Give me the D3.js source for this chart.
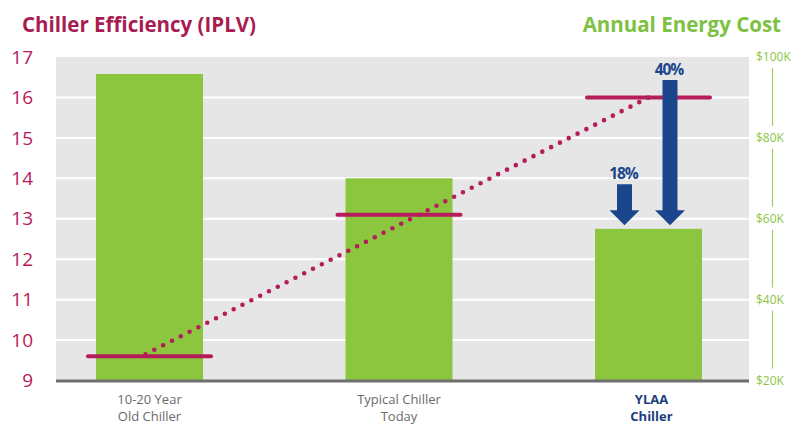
<!DOCTYPE html>
<html>
<head>
<meta charset="utf-8">
<script src="https://d3js.org/d3.v7.min.js"></script>
<style>
  body { margin: 0; background: #fff; }
  svg { display: block; font-family: "Open Sans", "Noto Sans", sans-serif; }
</style>
</head>
<body>
<div id="chart"></div>
<script>
// data
var categories = [["10-20 Year", "Old Chiller"], ["Typical Chiller", "Today"], ["YLAA", "Chiller"]]
var energyCost = [95.8, 70, 57.5]      // $K, right axis (bars)
var iplv = [9.6, 13.1, 16.0]           // left axis (red lines)
var iplvTicks = [9, 10, 11, 12, 13, 14, 15, 16, 17]
var costTicks = [20, 40, 60, 80, 100]
var savings = [{ label: "18%", from: 1 }, { label: "40%", from: 0 }]

var width = 795, height = 426
var plot = { left: 56, right: 749, top: 57, bottom: 380.5 }

var red = "#b51c5a", green = "#8cc63f", blue = "#1c468c"

var svg = d3.select("#chart").append("svg")
  .attr("width", width).attr("height", height)

var x = d3.scalePoint().domain(d3.range(categories.length)).range([149.5, 648.5])
var yL = d3.scaleLinear().domain([9, 17]).range([plot.bottom, plot.top])
var yR = d3.scaleLinear().domain([20, 100]).range([plot.bottom, plot.top])
var barW = 107

// background
svg.append("rect")
  .attr("x", plot.left).attr("y", plot.top)
  .attr("width", plot.right - plot.left).attr("height", plot.bottom - plot.top)
  .attr("fill", "#e6e6e6")

// grid lines
svg.selectAll(".grid").data(iplvTicks.slice(1, -1)).enter().append("line")
  .attr("x1", plot.left).attr("x2", plot.right)
  .attr("y1", d => yL(d)).attr("y2", d => yL(d))
  .attr("stroke", "#fff").attr("stroke-width", 2)

// bars
svg.selectAll(".bar").data(energyCost).enter().append("rect")
  .attr("x", (d, i) => x(i) - barW / 2)
  .attr("y", d => yR(d))
  .attr("width", barW)
  .attr("height", d => plot.bottom - yR(d))
  .attr("fill", green)

// x axis line
svg.append("line")
  .attr("x1", plot.left).attr("x2", plot.right)
  .attr("y1", plot.bottom + 0.5).attr("y2", plot.bottom + 0.5)
  .attr("stroke", "#6e6e6e").attr("stroke-width", 3)

// dotted trend line
svg.append("line")
  .attr("x1", x(0) - 4).attr("y1", yL(iplv[0]) - 2)
  .attr("x2", x(2)).attr("y2", yL(iplv[2]))
  .attr("stroke", red).attr("stroke-width", 4.6)
  .attr("stroke-linecap", "round").attr("stroke-dasharray", "0 9.9")

// IPLV lines
svg.selectAll(".iplv").data(iplv).enter().append("line")
  .attr("x1", (d, i) => x(i) - barW / 2 - 8).attr("x2", (d, i) => x(i) + barW / 2 + 8)
  .attr("y1", d => yL(d)).attr("y2", d => yL(d))
  .attr("stroke", red).attr("stroke-width", 4).attr("stroke-linecap", "round")

// saving arrows
var arrowX = [x(2) - 24, x(2) + 21.5]
savings.forEach(function (s, i) {
  var cx = arrowX[i]
  var top = yR(energyCost[s.from]) + 6
  var tip = yR(energyCost[2]) - 3.5
  var headTop = tip - 15
  svg.append("path")
    .attr("d", "M" + (cx - 7.5) + "," + top + "H" + (cx + 7.5) + "V" + headTop +
      "H" + (cx + 15) + "L" + cx + "," + tip + "L" + (cx - 15) + "," + headTop +
      "H" + (cx - 7.5) + "Z")
    .attr("fill", blue)
  svg.append("text")
    .attr("x", cx - 1).attr("y", top - 5)
    .attr("text-anchor", "middle")
    .attr("font-size", 15.5).attr("font-weight", 700).attr("letter-spacing", -1)
    .attr("fill", blue)
    .text(s.label)
})

// left axis labels
svg.selectAll(".lt").data(iplvTicks).enter().append("text")
  .attr("x", 33).attr("y", d => yL(d)).attr("dy", "0.35em")
  .attr("text-anchor", "end").attr("font-size", 19)
  .attr("fill", red).text(d => d)

// right axis labels and connectors
svg.selectAll(".rt").data(costTicks).enter().append("text")
  .attr("x", 756).attr("y", d => yR(d)).attr("dy", "0.35em")
  .attr("font-size", 12).attr("fill", "#8cc63f")
  .text(d => "$" + d + "K")
svg.selectAll(".rc").data(costTicks.slice(1)).enter().append("line")
  .attr("x1", 772.5).attr("x2", 772.5)
  .attr("y1", d => yR(d) + 11).attr("y2", d => yR(d - 20) - 12)
  .attr("stroke", "#9ccf5f").attr("stroke-width", 1.2)

// category labels
categories.forEach(function (c, i) {
  var last = i === categories.length - 1
  var t = svg.append("text")
    .attr("x", x(i) + (last ? 3 : 0)).attr("y", 404)
    .attr("text-anchor", "middle").attr("font-size", 13)
    .attr("font-weight", last ? 700 : 400)
    .attr("fill", last ? "#203f7c" : "#6b6b6b")
  t.append("tspan").attr("x", x(i) + (last ? 3 : 0)).text(c[0])
  t.append("tspan").attr("x", x(i) + (last ? 3 : 0)).attr("dy", 17).text(c[1])
})

// titles
svg.append("text").attr("x", 22).attr("y", 32)
  .attr("font-size", 20.5).attr("font-weight", 700).attr("fill", "#a81c52")
  .text("Chiller Efficiency (IPLV)")
svg.append("text").attr("x", 781).attr("y", 32).attr("text-anchor", "end")
  .attr("font-size", 20.5).attr("font-weight", 700).attr("fill", "#7dc142")
  .text("Annual Energy Cost")
</script>
</body>
</html>
